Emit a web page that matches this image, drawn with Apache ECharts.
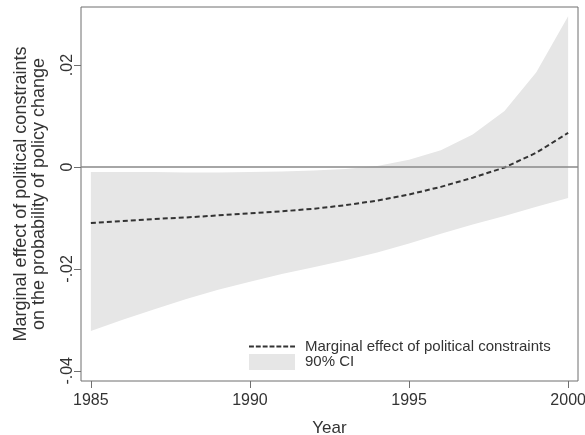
<!DOCTYPE html>
<html>
<head>
<meta charset="utf-8">
<script src="https://cdn.jsdelivr.net/npm/echarts@6/dist/echarts.min.js"></script>
<style>
  html, body { margin: 0; padding: 0; background: #fff; }
  #chart { width: 585px; height: 435px; }
</style>
</head>
<body>
<div id="chart"></div>
<script>
// years on the x axis
var years = [1985, 1986, 1987, 1988, 1989, 1990, 1991, 1992, 1993, 1994, 1995, 1996, 1997, 1998, 1999, 2000]
// marginal effect (dashed line)
var effect = [-0.0110, -0.0106, -0.0102, -0.0099, -0.0095, -0.0091, -0.0087, -0.0082, -0.0075, -0.0066, -0.0054, -0.0039, -0.0021, -0.0001, 0.0028, 0.0067]
// 90% CI bounds
var ciUpper = [-0.0010, -0.0010, -0.0010, -0.0011, -0.0011, -0.0010, -0.0009, -0.0007, -0.0004, 0.0002, 0.0014, 0.0033, 0.0064, 0.0110, 0.0186, 0.0296]
var ciLower = [-0.0322, -0.0300, -0.0279, -0.0259, -0.0241, -0.0225, -0.0210, -0.0197, -0.0183, -0.0168, -0.0150, -0.0131, -0.0113, -0.0096, -0.0078, -0.0061]
// tick labels
var xTicks = [1985, 1990, 1995, 2000]
var yTicks = [-0.04, -0.02, 0, 0.02]
var yTickLabels = ['-.04', '-.02', '0', '.02']

var lineName = 'Marginal effect of political constraints'
var ciName = '90% CI'

var font = '"Liberation Sans", Arial, sans-serif'
var axisGray = '#6f6f6f'
var bandColor = '#e6e6e6'
// dashed legend key (7 short dashes)
var dashIcon = 'path://M0,0h5v2h-5z M7,0h5v2h-5z M14,0h5v2h-5z M21,0h5v2h-5z M28,0h5v2h-5z M35,0h5v2h-5z M42,0h5v2h-5z'

var chart = echarts.init(document.getElementById('chart'))

// band polygon: upper edge left to right, then lower edge back
function renderBand (params, api) {
  if (params.dataIndex !== 0) return
  var pts = []
  for (var i = 0; i < years.length; i++) pts.push(api.coord([years[i], ciUpper[i]]))
  for (var j = years.length - 1; j >= 0; j--) pts.push(api.coord([years[j], ciLower[j]]))
  return {
    type: 'polygon',
    shape: { points: pts },
    style: { fill: bandColor, stroke: null }
  }
}

var option = {
  animation: false,
  textStyle: { fontFamily: font },
  grid: {
    left: 81,
    right: 7,
    top: 7,
    bottom: 54,
    outerBoundsMode: 'none',
    show: true,
    borderColor: axisGray,
    borderWidth: 1
  },
  legend: {
    orient: 'vertical',
    left: 249,
    top: 339,
    padding: 0,
    itemWidth: 46,
    itemHeight: 16,
    itemGap: 0,
    selectedMode: false,
    textStyle: {
      fontFamily: font,
      fontSize: 15,
      color: '#333',
      padding: [0, 0, 0, 5]
    },
    data: [
      { name: lineName, icon: dashIcon, itemStyle: { color: '#333' } },
      { name: ciName, icon: 'rect', itemStyle: { color: bandColor } }
    ]
  },
  xAxis: {
    type: 'value',
    min: 1984.69,
    max: 2000.31,
    name: 'Year',
    nameLocation: 'middle',
    nameGap: 39,
    nameTextStyle: { fontFamily: font, fontSize: 17, color: '#333' },
    axisLine: { show: false, onZero: false },
    splitLine: { show: false },
    axisTick: {
      show: true,
      length: 7,
      customValues: xTicks,
      lineStyle: { color: axisGray }
    },
    axisLabel: {
      customValues: xTicks,
      fontFamily: font,
      fontSize: 16,
      color: '#333',
      margin: 12,
      formatter: function (v) { return String(Math.round(v)) }
    }
  },
  yAxis: {
    type: 'value',
    min: -0.042,
    max: 0.0314,
    name: 'Marginal effect of political constraints\non the probability of policy change',
    nameLocation: 'middle',
    nameGap: 33,
    nameTextStyle: { fontFamily: font, fontSize: 18, color: '#333', lineHeight: 18 },
    axisLine: { show: false, onZero: false },
    splitLine: { show: false },
    axisTick: {
      show: true,
      length: 7,
      customValues: yTicks,
      lineStyle: { color: axisGray }
    },
    axisLabel: {
      customValues: yTicks,
      rotate: 90,
      fontFamily: font,
      fontSize: 16,
      color: '#333',
      margin: 5,
      formatter: function (v) {
        var i = yTicks.findIndex(function (t) { return Math.abs(t - v) < 1e-9 })
        return i >= 0 ? yTickLabels[i] : ''
      }
    }
  },
  series: [
    {
      name: ciName,
      type: 'custom',
      z: 1,
      silent: true,
      clip: true,
      itemStyle: { color: bandColor },
      renderItem: renderBand,
      encode: { x: 0, y: [1, 2] },
      data: years.map(function (y, i) { return [y, ciLower[i], ciUpper[i]] })
    },
    {
      name: lineName,
      type: 'line',
      z: 3,
      symbol: 'none',
      silent: true,
      itemStyle: { color: '#333' },
      lineStyle: { color: '#333', width: 2, type: [5, 3] },
      markLine: {
        silent: true,
        symbol: 'none',
        label: { show: false },
        lineStyle: { color: '#888', width: 1.5, type: 'solid' },
        data: [{ yAxis: 0 }]
      },
      data: years.map(function (y, i) { return [y, effect[i]] })
    }
  ]
}

chart.setOption(option)
</script>
</body>
</html>
